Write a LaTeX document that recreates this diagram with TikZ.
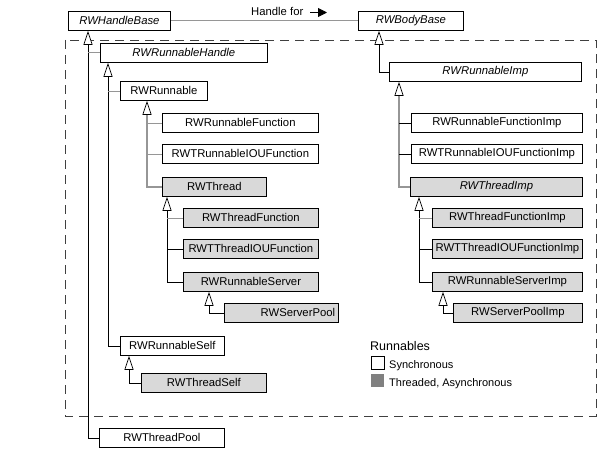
\documentclass[tikz,border=0pt]{standalone}
\usepackage{fontspec}
\setmainfont{Liberation Sans}
\usetikzlibrary{arrows.meta}
\definecolor{boxgray}{RGB}{217,217,217}
\definecolor{leggray}{RGB}{128,128,128}
\definecolor{linegray}{RGB}{150,150,150}
\tikzset{
  cls/.style={draw=black, line width=0.8pt, fill=white, anchor=north west, inner sep=0pt,
    minimum height=19pt, font=\fontsize{11.3}{13}\selectfont},
  thr/.style={cls, fill=boxgray},
  inh/.style={draw=black, line width=0.7pt,
    {Triangle[open, length=14pt, width=9pt, fill=white, line width=0.7pt]}-},
  inhg/.style={inh, draw=linegray, line width=1.6pt,
    {Triangle[open, length=14pt, width=9pt, fill=white, line width=0.7pt, color=black]}-},
  stub/.style={draw=linegray, line width=0.8pt},
  frame/.style={draw=black!75, line width=0.8pt, dash pattern=on 9pt off 6pt},
}
\begin{document}
\begin{tikzpicture}[x=1pt, y=-1pt]
\useasboundingbox (0,0) rectangle (599,460);
\draw[frame] (65,40) rectangle (596,416);

% top
\node[cls, minimum width=102pt] (hb) at (68,11) {\itshape RWHandleBase};
\node[cls, minimum width=105pt] (bb) at (358,11) {\itshape RWBodyBase};
\draw[stub, line width=1pt] (hb.east) -- (bb.west);
\node[anchor=base west, inner sep=0pt, font=\fontsize{11.3}{13}\selectfont] (hf) at (251,16) {Handle for};
\coordinate (ha) at (310,12.5);
\coordinate (hb2) at (327,12.5);
\draw[line width=0.9pt, -{Triangle[length=9pt, width=9pt]}] (ha) -- (hb2);

% left tree
\node[cls, minimum width=167pt] (rh) at (100,43) {\itshape RWRunnableHandle};
\node[cls, minimum width=87pt] (rr) at (120,81) {RWRunnable};
\node[cls, minimum width=156pt] (rf) at (162,113) {RWRunnableFunction};
\node[cls, minimum width=156pt] (rio) at (162,144) {RWTRunnableIOUFunction};
\node[thr, minimum width=104pt] (th) at (162,177) {RWThread};
\node[thr, minimum width=135pt] (tf) at (183,208) {RWThreadFunction};
\node[thr, minimum width=135pt] (tio) at (183,239) {RWTThreadIOUFunction};
\node[thr, minimum width=135pt] (rs) at (183,272) {RWRunnableServer};
\node[thr, minimum width=114pt] (sp) at (224,303) {\hspace*{33pt}RWServerPool};
\node[cls, minimum width=104pt] (rself) at (120,336) {RWRunnableSelf};
\node[thr, minimum width=125pt] (tself) at (141,373) {RWThreadSelf};
\node[cls, minimum width=125pt] (tp) at (99,428) {RWThreadPool};

% right tree
\node[cls, minimum width=192pt] (ri) at (389,62) {\itshape RWRunnableImp};
\node[cls, minimum width=171pt] (rfi) at (411,113) {RWRunnableFunctionImp};
\node[cls, minimum width=171pt] (rioi) at (411,144) {RWTRunnableIOUFunctionImp};
\node[thr, minimum width=172pt] (thi) at (410,177) {\itshape RWThreadImp};
\node[thr, minimum width=150pt] (tfi) at (432,208) {RWThreadFunctionImp};
\node[thr, minimum width=150pt] (tioi) at (432,239) {RWTThreadIOUFunctionImp};
\node[thr, minimum width=150pt] (rsi) at (432,272) {RWRunnableServerImp};
\node[thr, minimum width=129pt] (spi) at (453,303) {RWServerPoolImp};

% inheritance, left
\draw[inh] ([xshift=20pt]hb.south west) |- (tp.west);
\draw[stub] ([xshift=20pt]hb.south west |- rh.west) -- (rh.west);
\draw[inh] ([xshift=8pt]rh.south west) |- (rself.west);
\draw[stub] ([xshift=8pt]rh.south west |- rr.west) -- (rr.west);
\draw[inhg] ([xshift=27pt]rr.south west) |- (th.west);
\draw[stub] ([xshift=27pt]rr.south west |- rf.west) -- (rf.west);
\draw[stub] ([xshift=27pt]rr.south west |- rio.west) -- (rio.west);
\draw[inh] ([xshift=5pt]th.south west) |- (rs.west);
\draw[stub] ([xshift=5pt]th.south west |- tf.west) -- (tf.west);
\draw[stub, draw=black] ([xshift=5pt]th.south west |- tio.west) -- (tio.west);
\draw[inh] ([xshift=26pt]rs.south west) |- (sp.west);
\draw[inh] ([xshift=9pt]rself.south west) |- (tself.west);

% inheritance, right
\draw[inh] ([xshift=21pt]bb.south west) |- (ri.west);
\draw[inhg] ([xshift=10pt]ri.south west) |- (thi.west);
\draw[stub, draw=black] ([xshift=10pt]ri.south west |- rfi.west) -- (rfi.west);
\draw[stub, draw=black] ([xshift=10pt]ri.south west |- rioi.west) -- (rioi.west);
\draw[inh] ([xshift=9pt]thi.south west) |- (rsi.west);
\draw[stub] ([xshift=9pt]thi.south west |- tfi.west) -- (tfi.west);
\draw[stub, draw=black] ([xshift=9pt]thi.south west |- tioi.west) -- (tioi.west);
\draw[inh] ([xshift=11pt]rsi.south west) |- (spi.west);

% legend
\node[anchor=base west, inner sep=0pt, font=\fontsize{12.5}{14}\selectfont] (lt) at (370,350) {Runnables};
\node[draw=black, line width=0.7pt, fill=white, minimum size=13pt, inner sep=0pt, anchor=north west] (ls) at (371,356) {};
\node[draw=leggray, fill=leggray, minimum size=12pt, inner sep=0pt, anchor=north west] (la) at (371,374) {};
\node[anchor=base west, inner sep=0pt, font=\fontsize{11}{13}\selectfont] (lst) at (389,368) {Synchronous};
\node[anchor=base west, inner sep=0pt, font=\fontsize{11}{13}\selectfont] (lat) at (389,386) {Threaded, Asynchronous};
\end{tikzpicture}
\end{document}
